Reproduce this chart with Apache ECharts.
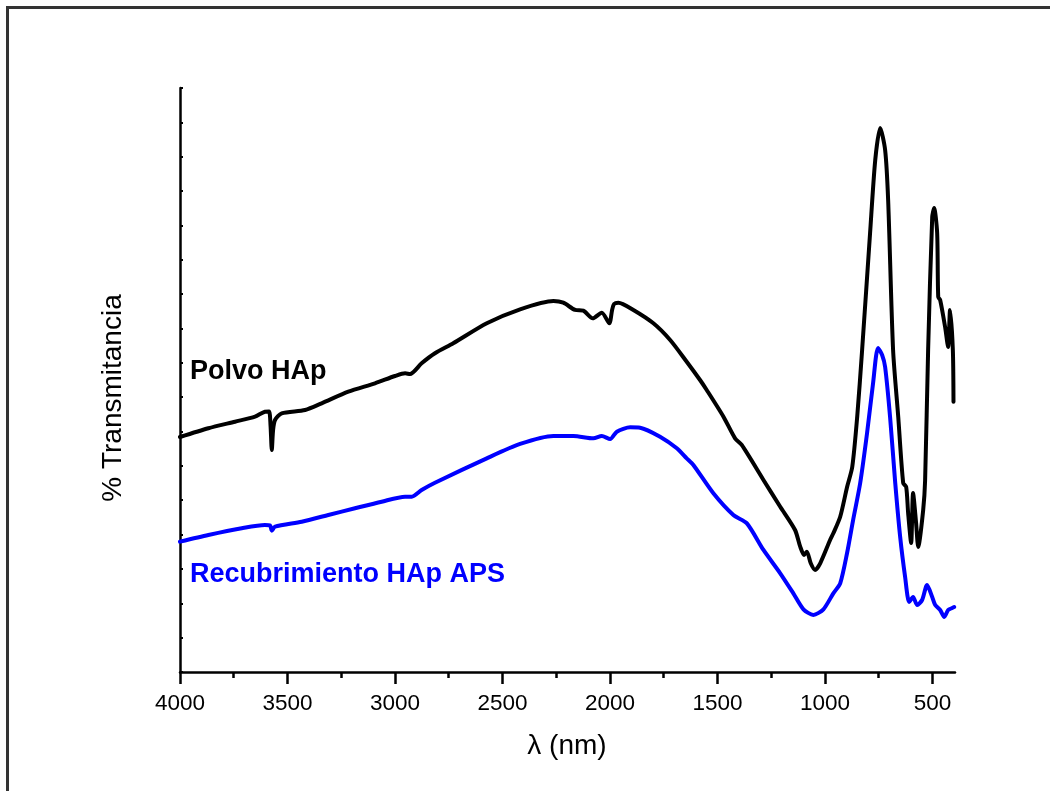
<!DOCTYPE html>
<html>
<head>
<meta charset="utf-8">
<script src="https://cdn.jsdelivr.net/npm/echarts@6/dist/echarts.min.js"></script>
<style>
html,body{margin:0;padding:0;background:#fff;}
#chart{width:1050px;height:791px;}
</style>
</head>
<body>
<div id="chart"></div>
<script>
// Wavenumber ticks and labels
var majorTicks = [4000, 3500, 3000, 2500, 2000, 1500, 1000, 500];
var minorTicks = [3750, 3250, 2750, 2250, 1750, 1250, 750];

// Polvo HAp (black) : [wavenumber, % transmitancia (arb.)]
var polvoX = [4000,3868,3744,3651,3605,3586,3579,3573,3567,3558,3527,3418,3341,3217,3093,3000,2953,2930,2876,2814,2729,2573,2418,2263,2217,2162,2124,2080,2038,2003,1990,1981,1961,1891,1798,1720,1643,1581,1550,1472,1418,1387,1286,1208,1139,1115,1097,1084,1066,1046,1022,976,961,929,897,873,850,827,790,766,743,720,706,683,659,636,622,613,599,590,576,566,543,534,520,501,492,478,473,464,441,427,418,405,402];
var polvoY = [34.2,35.47,36.43,37.16,37.89,37.92,35.95,32.31,35.22,36.68,37.65,38.13,39.11,40.80,42.02,43.08,43.48,43.37,44.93,46.39,47.84,50.75,52.79,54.00,53.75,52.69,52.59,51.48,52.30,50.75,52.69,53.56,53.75,52.69,50.75,48.32,45.16,42.50,41.05,37.16,34.01,33.04,27.95,24.06,20.67,18.24,17.03,17.51,15.82,14.85,15.82,19.21,20.19,22.60,26.93,29.84,37.12,46.87,63.90,74.52,79.18,75.98,68.70,46.87,37.12,27.51,26.93,23.14,18.78,26.05,21.69,18.19,23.58,27.9,46.87,66.23,67.54,63.90,54.58,54.14,50.21,47.30,52.69,46.87,39.34];

// Recubrimiento HAp APS (blue)
var recubX = [4000,3868,3713,3605,3581,3573,3558,3434,3310,3186,3062,2953,2922,2876,2814,2573,2418,2263,2170,2077,2038,1999,1968,1906,1860,1767,1689,1643,1612,1519,1426,1363,1286,1208,1147,1100,1054,1007,961,929,897,869,836,804,776,753,734,720,697,673,650,627,608,590,571,548,525,501,487,464,445,427,408,399];
var recubY = [18.97,19.94,20.92,21.40,21.32,20.57,21.15,21.88,22.85,23.83,24.79,25.52,25.52,26.49,27.55,31.10,33.19,34.35,34.35,34.01,34.35,33.91,34.98,35.62,35.56,34.25,32.56,31.10,30.13,26.01,22.85,21.64,17.76,14.37,11.45,9.13,8.30,9.13,11.45,12.91,17.32,22.12,27.51,34.79,42.06,47.16,46.14,44.39,37.12,27.51,19.65,13.83,10.19,10.92,9.75,10.48,12.66,10.92,9.75,9.02,8.01,9.02,9.32,9.46];

var seriesNames = ['Polvo HAp', 'Recubrimiento HAp APS'];
var axisTitles = ['\u03bb (nm)', '% Transmitancia'];

function pairs(xs, ys){ return xs.map(function(x,i){ return [x, ys[i]]; }); }

var chart = echarts.init(document.getElementById('chart'), null, {renderer:'canvas'});
var FONT = 'Liberation Sans, Arial, Helvetica, sans-serif';
var xCommon = {
  type:'value', inverse:true, min:395, max:4000, position:'bottom',
  splitLine:{show:false}
};
var option = {
  animation:false,
  backgroundColor:'#ffffff',
  grid:{left:180, right:95, top:88, bottom:119, containLabel:false},
  xAxis:[
    Object.assign({}, xCommon, {
      axisLine:{show:true, lineStyle:{color:'#000', width:2.5}},
      axisTick:{show:true, inside:false, length:12, lineStyle:{color:'#000', width:2.5}, customValues:majorTicks},
      axisLabel:{show:true, margin:20, fontSize:22.5, color:'#000', fontFamily:FONT, customValues:majorTicks,
                 formatter:function(v){ return String(v); }}
    }),
    Object.assign({}, xCommon, {
      axisLine:{show:false},
      axisTick:{show:true, inside:false, length:6, lineStyle:{color:'#000', width:2.5}, customValues:minorTicks},
      axisLabel:{show:false}
    })
  ],
  yAxis:{
    type:'value', min:0, max:85, interval:5,
    axisLine:{show:true, lineStyle:{color:'#000', width:2.5}},
    axisTick:{show:true, inside:true, length:3, lineStyle:{color:'#000', width:2}},
    axisLabel:{show:false},
    splitLine:{show:false}
  },
  series:[
    {name:seriesNames[0], type:'line', xAxisIndex:0, data:pairs(polvoX, polvoY), showSymbol:false, smooth:0.25,
     lineStyle:{color:'#000000', width:4, join:'round', cap:'round'}, z:3},
    {name:seriesNames[1], type:'line', xAxisIndex:0, data:pairs(recubX, recubY), showSymbol:false, smooth:0.25,
     lineStyle:{color:'#0000ff', width:4, join:'round', cap:'round'}, z:2}
  ],
  graphic:[
    {type:'line', shape:{x1:7, y1:7.5, x2:1050, y2:7.5}, style:{stroke:'#333', lineWidth:3}},
    {type:'line', shape:{x1:7.5, y1:6, x2:7.5, y2:791}, style:{stroke:'#333', lineWidth:3}},
    {type:'text', x:567, y:746, style:{text:axisTitles[0], font:'28px '+FONT, fill:'#000', align:'center', verticalAlign:'middle'}},
    {type:'text', x:113, y:398, rotation:Math.PI/2, style:{text:axisTitles[1], font:'28px '+FONT, fill:'#000', align:'center', verticalAlign:'middle'}},
    {type:'text', x:190, y:372, style:{text:seriesNames[0], font:'bold 27px '+FONT, fill:'#000', align:'left', verticalAlign:'middle'}},
    {type:'text', x:190, y:575, style:{text:seriesNames[1], font:'bold 27px '+FONT, fill:'#0000ff', align:'left', verticalAlign:'middle'}}
  ]
};
chart.setOption(option);
</script>
</body>
</html>
